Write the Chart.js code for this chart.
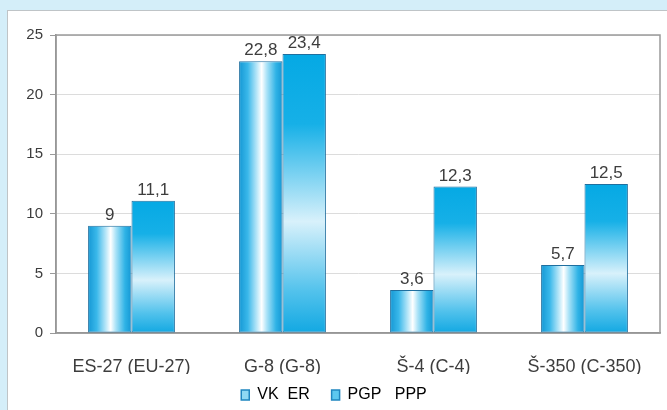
<!DOCTYPE html>
<html>
<head>
<meta charset="utf-8">
<script src="https://cdn.jsdelivr.net/npm/chart.js@4"></script>
<style>
  html, body { margin: 0; padding: 0; }
  body { width: 667px; height: 410px; background: #d4eef9; position: relative; overflow: hidden; }
  #panel {
    position: absolute; left: 7px; top: 10px; width: 660px; height: 400px;
    background: #ffffff; border-top: 1px solid #bfc4c7; border-left: 1px solid #bfc4c7;
  }
  #chart { display: block; }
</style>
</head>
<body>
<div id="panel"><canvas id="chart" width="659" height="399"></canvas></div>
<script>
// podatki z grafa
const categories = ["ES-27 (EU-27)", "G-8 (G-8)", "Š-4 (C-4)", "Š-350 (C-350)"];
const vkValues = [9, 22.8, 3.6, 5.7];       // VK  ER
const pgpValues = [11.1, 23.4, 12.3, 12.5]; // PGP  PPP
const seriesNames = ["VK\u00a0\u00a0ER", "PGP\u00a0\u00a0\u00a0PPP"];
const yTicks = [0, 5, 10, 15, 20, 25];

const CAT_PCT = 0.575;
const textColor = "#3d3d3d";
const fontFamily = "'Liberation Sans', Arial, sans-serif";

// sirina stolpca iz skale x
function barBox(chart, ctx) {
  const xs = chart.scales.x, ys = chart.scales.y;
  if (!xs || !ys || !chart.chartArea) return null;
  const catW = xs.width / categories.length;
  const bw = catW * CAT_PCT / 2;
  const center = xs.getPixelForValue(ctx.dataIndex);
  const left = ctx.datasetIndex === 0 ? center - bw : center;
  const top = ys.getPixelForValue(ctx.raw);
  const bottom = ys.getPixelForValue(0);
  return { left, right: left + bw, top, bottom };
}

// VK: valj (vodoravni preliv)
function cylinderFill(ctx) {
  const chart = ctx.chart;
  const b = ctx.type === "data" ? barBox(chart, ctx) : null;
  if (!b) return "#3bb7e8";
  const g = chart.ctx.createLinearGradient(b.left, 0, b.right, 0);
  g.addColorStop(0, "#1497d4");
  g.addColorStop(0.2, "#3ab8ea");
  g.addColorStop(0.42, "#bfe9f9");
  g.addColorStop(0.52, "#ffffff");
  g.addColorStop(0.64, "#a9e2f7");
  g.addColorStop(0.85, "#2fb3e6");
  g.addColorStop(1, "#1497d4");
  return g;
}

// PGP: navpicni preliv
function verticalFill(ctx) {
  const chart = ctx.chart;
  const b = ctx.type === "data" ? barBox(chart, ctx) : null;
  if (!b) return "#1cb0e6";
  const g = chart.ctx.createLinearGradient(0, b.top, 0, b.bottom);
  g.addColorStop(0, "#05a9e4");
  g.addColorStop(0.25, "#16b0e7");
  g.addColorStop(0.6, "#d8f1fb");
  g.addColorStop(0.85, "#52c2ec");
  g.addColorStop(1, "#12a8e2");
  return g;
}

// vrednosti nad stolpci + okvir risalnega polja
const valueLabels = {
  id: "valueLabels",
  beforeDatasetsDraw(chart) {
    const { ctx, chartArea: a } = chart;
    ctx.save();
    ctx.strokeStyle = "#9a9a9a";
    ctx.lineWidth = 1.5;
    ctx.strokeRect(a.left, a.top, a.right - a.left, a.bottom - a.top);
    ctx.restore();
  },
  afterDatasetsDraw(chart) {
    const ctx = chart.ctx;
    ctx.save();
    ctx.font = "17px " + fontFamily;
    ctx.fillStyle = textColor;
    ctx.textAlign = "center";
    ctx.textBaseline = "bottom";
    chart.data.datasets.forEach((ds, i) => {
      chart.getDatasetMeta(i).data.forEach((el, j) => {
        const txt = String(ds.data[j]).replace(".", ",");
        ctx.fillText(txt, el.x, el.y - 2);
      });
    });
    ctx.restore();
  }
};

new Chart(document.getElementById("chart"), {
  type: "bar",
  data: {
    labels: categories,
    datasets: [
      {
        label: seriesNames[0],
        data: vkValues,
        backgroundColor: cylinderFill,
        borderColor: "#1f6f9f",
        borderWidth: 1,
        borderSkipped: false,
        categoryPercentage: CAT_PCT,
        barPercentage: 1
      },
      {
        label: seriesNames[1],
        data: pgpValues,
        backgroundColor: verticalFill,
        borderColor: "#1f6f9f",
        borderWidth: 1,
        borderSkipped: false,
        categoryPercentage: CAT_PCT,
        barPercentage: 1
      }
    ]
  },
  options: {
    responsive: false,
    animation: false,
    // spodnji odmik negativen, da legenda pride nizje
    layout: { padding: { top: 24, right: 7, left: 0, bottom: -3 } },
    scales: {
      x: {
        afterFit(scale) { scale.height = 41; },
        grid: { display: false },
        border: { color: "#8c8c8c", width: 1.5 },
        ticks: { color: textColor, font: { size: 18, family: fontFamily }, padding: 15, maxRotation: 0 }
      },
      y: {
        min: 0,
        max: 25,
        afterFit(scale) { scale.width = 48; },
        afterBuildTicks(scale) { scale.ticks = yTicks.map(v => ({ value: v })); },
        grid: { color: "#dcdcdc", tickLength: 6, tickColor: "#9a9a9a" },
        border: { color: "#8c8c8c", width: 1.5 },
        ticks: { color: textColor, font: { size: 15, family: fontFamily }, padding: 7 }
      }
    },
    plugins: {
      tooltip: { enabled: false },
      legend: {
        position: "bottom",
        labels: {
          color: textColor,
          font: { size: 16, family: fontFamily },
          boxWidth: 8,
          boxHeight: 10,
          padding: 13,
          generateLabels() {
            return [
              { text: seriesNames[0] + "\u00a0\u00a0", fillStyle: "#8fd9f3", strokeStyle: "#1f86c0", lineWidth: 1.5, datasetIndex: 0 },
              { text: seriesNames[1], fillStyle: "#5cc8ef", strokeStyle: "#1f86c0", lineWidth: 1.5, datasetIndex: 1 }
            ];
          }
        }
      }
    }
  },
  plugins: [valueLabels]
});
</script>
</body>
</html>
